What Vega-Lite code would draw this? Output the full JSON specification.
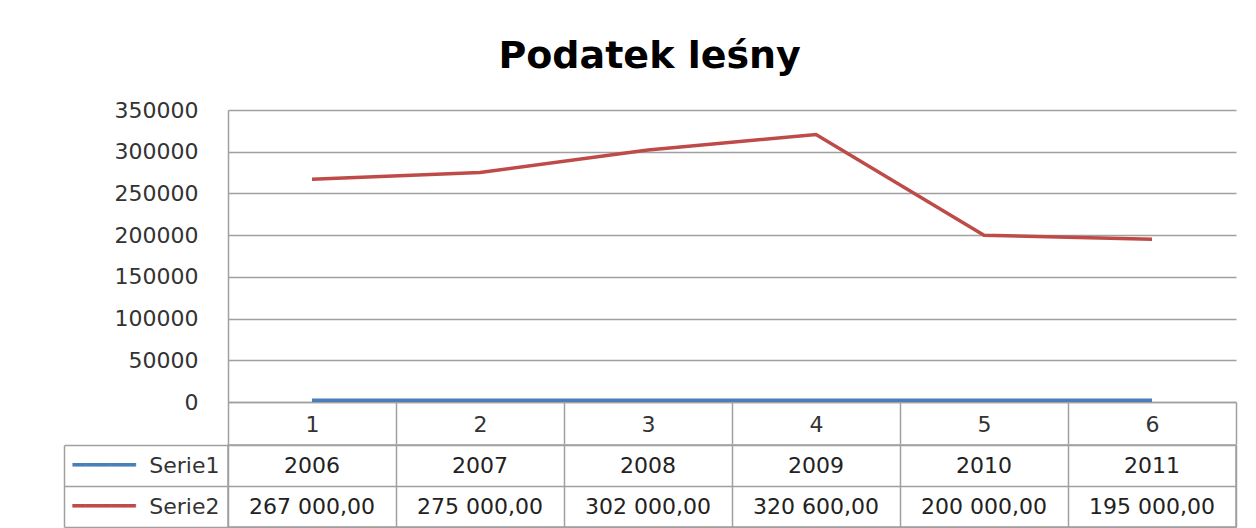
{
  "$schema": "https://vega.github.io/schema/vega-lite/v6.json",
  "background": "white",
  "padding": {"left": 62, "top": 38, "right": 20, "bottom": 0},
  "title": {"text": "Podatek leśny", "font": "DejaVu Sans", "fontSize": 38, "fontWeight": "bold", "color": "#000000", "anchor": "middle", "offset": 23},
  "datasets": {
    "serie": [
      {"kat": "1", "seria": "Serie1", "wartosc": 2006},
      {"kat": "2", "seria": "Serie1", "wartosc": 2007},
      {"kat": "3", "seria": "Serie1", "wartosc": 2008},
      {"kat": "4", "seria": "Serie1", "wartosc": 2009},
      {"kat": "5", "seria": "Serie1", "wartosc": 2010},
      {"kat": "6", "seria": "Serie1", "wartosc": 2011},
      {"kat": "1", "seria": "Serie2", "wartosc": 267000},
      {"kat": "2", "seria": "Serie2", "wartosc": 275000},
      {"kat": "3", "seria": "Serie2", "wartosc": 302000},
      {"kat": "4", "seria": "Serie2", "wartosc": 320600},
      {"kat": "5", "seria": "Serie2", "wartosc": 200000},
      {"kat": "6", "seria": "Serie2", "wartosc": 195000}
    ],
    "tabela": [
      {"kat": "1", "seria": "Serie1", "etykieta": "2006"},
      {"kat": "2", "seria": "Serie1", "etykieta": "2007"},
      {"kat": "3", "seria": "Serie1", "etykieta": "2008"},
      {"kat": "4", "seria": "Serie1", "etykieta": "2009"},
      {"kat": "5", "seria": "Serie1", "etykieta": "2010"},
      {"kat": "6", "seria": "Serie1", "etykieta": "2011"},
      {"kat": "1", "seria": "Serie2", "etykieta": "267 000,00"},
      {"kat": "2", "seria": "Serie2", "etykieta": "275 000,00"},
      {"kat": "3", "seria": "Serie2", "etykieta": "302 000,00"},
      {"kat": "4", "seria": "Serie2", "etykieta": "320 600,00"},
      {"kat": "5", "seria": "Serie2", "etykieta": "200 000,00"},
      {"kat": "6", "seria": "Serie2", "etykieta": "195 000,00"}
    ]
  },
  "spacing": -13,
  "vconcat": [
    {
      "width": 1008,
      "height": 292,
      "data": {"name": "serie"},
      "view": {"stroke": null},
      "mark": {"type": "line", "strokeWidth": 3.5},
      "encoding": {
        "x": {
          "field": "kat", "type": "ordinal", "bandPosition": 0.5,
          "scale": {"type": "band", "paddingInner": 0, "paddingOuter": 0},
          "axis": {"title": null, "labelAngle": 0, "tickBand": "extent", "tickSize": 42, "labelPadding": -30, "domainColor": "#A0A0A0", "tickColor": "#A0A0A0", "domainWidth": 1.5, "tickWidth": 1.5, "grid": false}
        },
        "y": {
          "field": "wartosc", "type": "quantitative",
          "scale": {"domain": [0, 350000], "nice": false},
          "axis": {"title": null, "values": [0, 50000, 100000, 150000, 200000, 250000, 300000, 350000], "format": "d", "ticks": false, "labelPadding": 30, "grid": true, "gridColor": "#A0A0A0", "gridWidth": 1.5, "domainColor": "#A0A0A0", "domainWidth": 1.5}
        },
        "color": {"field": "seria", "type": "nominal", "scale": {"domain": ["Serie1", "Serie2"], "range": ["#4A7EBB", "#BE4B48"]}, "legend": null}
      }
    },
    {
      "width": 1008,
      "height": 82,
      "data": {"name": "tabela"},
      "view": {"stroke": "#A0A0A0", "strokeWidth": 1.5},
      "layer": [
        {
          "mark": {"type": "text", "fontSize": 22, "color": "#222222", "font": "DejaVu Sans"},
          "encoding": {
            "x": {
              "field": "kat", "type": "ordinal",
              "scale": {"type": "band", "paddingInner": 0, "paddingOuter": 0},
              "axis": {"title": null, "labels": false, "ticks": false, "domain": false, "grid": true, "tickBand": "extent", "gridColor": "#A0A0A0", "gridWidth": 1.5}
            },
            "y": {
              "field": "seria", "type": "nominal",
              "scale": {"type": "band", "paddingInner": 0, "paddingOuter": 0, "domain": ["Serie1", "Serie2"]},
              "axis": {"title": null, "orient": "left", "tickBand": "extent", "tickSize": 164, "tickColor": "#A0A0A0", "tickWidth": 1.5, "labelPadding": -155, "domain": false, "grid": true, "gridColor": "#A0A0A0", "gridWidth": 1.5}
            },
            "text": {"field": "etykieta"}
          }
        },
        {
          "mark": {"type": "text", "opacity": 0},
          "encoding": {
            "x": {"field": "kat", "type": "ordinal"},
            "y": {
              "field": "seria", "type": "nominal",
              "scale": {"type": "band", "paddingInner": 0, "paddingOuter": 0, "domain": ["Serie1", "Serie2"]},
              "axis": {"title": null, "orient": "left", "offset": 164, "ticks": false, "tickSize": 0, "domain": true, "domainColor": "#A0A0A0", "domainWidth": 1.5, "grid": false, "labelAlign": "left", "labelPadding": -8, "labelFontSize": 21, "labelExpr": "'━━━━━'", "labelColor": {"condition": {"test": "datum.value === 'Serie1'", "value": "#4A7EBB"}, "value": "#BE4B48"}}
            },
            "text": {"field": "etykieta"}
          }
        }
      ],
      "resolve": {"scale": {"y": "independent"}, "axis": {"y": "independent"}}
    }
  ],
  "config": {
    "axis": {"labelFont": "DejaVu Sans", "labelFontSize": 22, "labelColor": "#333333"},
    "text": {"font": "DejaVu Sans"}
  }
}
